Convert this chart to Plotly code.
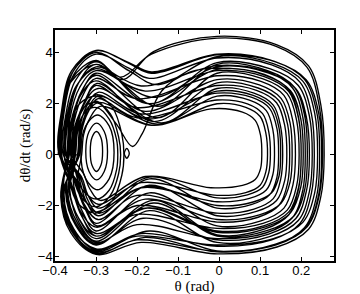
import plotly.graph_objects as go

# ---- trajectory loops read from the phase portrait (theta in rad, omega in rad/s) ----
loop01_theta = [-0.392, -0.386, -0.362, -0.30, -0.235, -0.16, -0.005, 0.141, 0.218, 0.248, 0.256, 0.248, 0.218, 0.141, -0.005, -0.19, -0.30, -0.362, -0.386]
loop01_omega = [0, 1.49, 2.84, 3.55, 2.95, 4.05, 4.65, 4.32, 3.49, 1.95, 0, -1.64, -2.93, -3.63, -3.9, -3.45, -3.92, -3.06, -1.65]

loop02_theta = [-0.39, -0.384, -0.36, -0.30, -0.22, -0.165, -0.005, 0.1375, 0.2125, 0.2425, 0.25, 0.2425, 0.2125, 0.1375, -0.005, -0.17, -0.30, -0.36, -0.384]
loop02_omega = [0, 1.72, 3.28, 4.1, 3.59, 3.2, 3.92, 3.65, 2.94, 1.65, 0, -1.59, -2.84, -3.52, -3.78, -3.0, -3.8, -2.96, -1.6]

loop03_theta = [-0.388, -0.382, -0.358, -0.30, -0.22, -0.15, -0.005, 0.132, 0.204, 0.233, 0.24, 0.233, 0.204, 0.132, -0.005, -0.2, -0.30, -0.358, -0.382]
loop03_omega = [0, 1.69, 3.22, 4.02, 3.3, 2.75, 3.85, 3.58, 2.89, 1.62, 0, -1.49, -2.66, -3.3, -3.55, -3.2, -3.7, -2.89, -1.55]

loop04_theta = [-0.38, -0.374, -0.35, -0.30, -0.17, -0.005, 0.125, 0.193, 0.22, 0.227, 0.22, 0.193, 0.125, -0.005, -0.17, -0.30, -0.35, -0.374]
loop04_omega = [0, 1.53, 2.92, 3.65, 2.0, 3.62, 3.37, 2.72, 1.52, 0, -1.45, -2.59, -3.21, -3.45, -2.2, -3.55, -2.77, -1.49]

loop05_theta = [-0.375, -0.369, -0.345, -0.30, -0.19, -0.005, 0.1155, 0.1785, 0.204, 0.21, 0.204, 0.1785, 0.1155, -0.005, -0.2, -0.30, -0.345, -0.369]
loop05_omega = [0, 1.45, 2.76, 3.45, 2.7, 3.5, 3.26, 2.63, 1.47, 0, -1.39, -2.48, -3.07, -3.3, -2.75, -3.45, -2.69, -1.45]

loop06_theta = [-0.37, -0.364, -0.34, -0.30, -0.18, -0.005, 0.11, 0.17, 0.194, 0.2, 0.194, 0.17, 0.11, -0.005, -0.16, -0.30, -0.34, -0.364]
loop06_omega = [0, 1.39, 2.64, 3.3, 2.5, 3.3, 3.07, 2.48, 1.39, 0, -1.32, -2.36, -2.93, -3.15, -1.8, -3.3, -2.57, -1.39]

loop07_theta = [-0.365, -0.359, -0.335, -0.30, -0.15, -0.005, 0.107, 0.166, 0.189, 0.195, 0.189, 0.166, 0.107, -0.005, -0.2, -0.30, -0.335, -0.359]
loop07_omega = [0, 1.31, 2.5, 3.12, 1.45, 3.2, 2.98, 2.4, 1.34, 0, -1.22, -2.18, -2.7, -2.9, -2.35, -3.1, -2.42, -1.3]

loop08_theta = [-0.36, -0.354, -0.33, -0.30, -0.2, -0.005, 0.102, 0.158, 0.18, 0.186, 0.18, 0.158, 0.102, -0.005, -0.17, -0.30, -0.33, -0.354]
loop08_omega = [0, 1.26, 2.4, 3.0, 2.2, 3.1, 2.88, 2.33, 1.3, 0, -1.18, -2.1, -2.6, -2.8, -1.5, -3.0, -2.34, -1.26]

loop09_theta = [-0.368, -0.362, -0.338, -0.30, -0.16, -0.005, 0.095, 0.146, 0.167, 0.172, 0.167, 0.146, 0.095, -0.005, -0.2, -0.30, -0.338, -0.362]
loop09_omega = [0, 1.22, 2.32, 2.9, 1.3, 2.82, 2.62, 2.12, 1.18, 0, -1.11, -1.99, -2.46, -2.65, -2.0, -2.85, -2.22, -1.2]

loop10_theta = [-0.355, -0.349, -0.325, -0.30, -0.2, -0.005, 0.091, 0.14, 0.16, 0.165, 0.16, 0.14, 0.091, -0.005, -0.17, -0.30, -0.325, -0.349]
loop10_omega = [0, 1.14, 2.18, 2.72, 1.85, 2.72, 2.53, 2.04, 1.14, 0, -1.01, -1.8, -2.23, -2.4, -1.2, -2.7, -2.11, -1.13]

loop11_theta = [-0.35, -0.345, -0.33, -0.295, -0.14, -0.005, 0.085, 0.132, 0.15, 0.155, 0.15, 0.132, 0.085, -0.005, -0.2, -0.295, -0.33, -0.345]
loop11_omega = [0, 1.09, 1.95, 2.6, 1.25, 2.6, 2.42, 1.95, 1.09, 0, -0.97, -1.73, -2.14, -2.3, -1.6, -2.55, -1.91, -1.07]

loop12_theta = [-0.345, -0.34, -0.325, -0.295, -0.19, -0.005, 0.08, 0.123, 0.141, 0.145, 0.141, 0.123, 0.08, -0.005, -0.17, -0.295, -0.325, -0.34]
loop12_omega = [0, 1.03, 1.84, 2.45, 1.6, 2.42, 2.25, 1.82, 1.02, 0, -0.88, -1.58, -1.95, -2.1, -0.95, -2.4, -1.8, -1.01]

loop13_theta = [-0.358, -0.352, -0.328, -0.30, -0.15, -0.005, 0.074, 0.115, 0.131, 0.135, 0.131, 0.115, 0.074, -0.005, -0.19, -0.30, -0.328, -0.352]
loop13_omega = [0, 0.99, 1.88, 2.35, 1.2, 2.3, 2.14, 1.73, 0.97, 0, -0.78, -1.39, -1.72, -1.85, -1.3, -2.25, -1.76, -0.95]

loop14_theta = [-0.34, -0.335, -0.32, -0.295, -0.2, -0.005, 0.069, 0.106, 0.121, 0.125, 0.121, 0.106, 0.069, -0.005, -0.17, -0.295, -0.32, -0.335]
loop14_omega = [0, 0.92, 1.65, 2.2, 1.45, 2.15, 2.0, 1.61, 0.9, 0, -0.71, -1.28, -1.58, -1.7, -0.88, -2.1, -1.58, -0.88]

loop15_theta = [-0.345, -0.34, -0.325, -0.295, -0.16, -0.005, 0.065, 0.1, 0.114, 0.118, 0.114, 0.1, 0.065, -0.005, -0.19, -0.295, -0.325, -0.34]
loop15_omega = [0, 0.86, 1.54, 2.05, 1.15, 2.0, 1.86, 1.5, 0.84, 0, -0.67, -1.2, -1.49, -1.6, -1.1, -1.95, -1.46, -0.82]

loop16_theta = [-0.335, -0.33, -0.315, -0.29, -0.165, -0.02, 0.057, 0.088, 0.101, 0.104, 0.101, 0.088, 0.057, -0.02, -0.18, -0.29, -0.315, -0.33]
loop16_omega = [0, 0.8, 1.43, 1.9, 1.15, 1.8, 1.67, 1.35, 0.76, 0, -0.55, -0.98, -1.21, -1.3, -0.86, -1.8, -1.35, -0.76]

loop17_theta = [-0.386, -0.38, -0.356, -0.30, -0.22, -0.165, -0.005, 0.135, 0.208, 0.238, 0.245, 0.238, 0.208, 0.135, -0.005, -0.18, -0.30, -0.356, -0.38]
loop17_omega = [0, 1.71, 3.26, 4.08, 3.62, 3.25, 3.95, 3.67, 2.96, 1.66, 0, -1.6, -2.87, -3.55, -3.82, -3.25, -3.85, -3.0, -1.62]

loop18_theta = [-0.372, -0.366, -0.342, -0.30, -0.15, -0.005, 0.118, 0.183, 0.209, 0.215, 0.209, 0.183, 0.118, -0.005, -0.16, -0.30, -0.342, -0.366]
loop18_omega = [0, 1.49, 2.84, 3.55, 1.9, 3.55, 3.3, 2.66, 1.49, 0, -1.34, -2.4, -2.98, -3.2, -1.9, -3.4, -2.65, -1.43]

loop19_theta = [-0.35, -0.345, -0.33, -0.30, -0.252, -0.211, -0.187, -0.14, -0.07, -0.005, 0.11, 0.17, 0.194, 0.2, 0.194, 0.17, 0.11, -0.005, -0.175, -0.30, -0.342, -0.366]
loop19_omega = [0, 0.9, 1.6, 2.1, 1.24, 0.32, 0.84, 2.5, 3.25, 3.4, 3.16, 2.55, 1.43, 0, -1.26, -2.25, -2.79, -3.0, -2.1, -3.2, -2.5, -1.35]

loop20_theta = [-0.384, -0.378, -0.354, -0.30, -0.22, -0.17, -0.005, 0.128, 0.197, 0.225, 0.232, 0.225, 0.197, 0.128, -0.005, -0.19, -0.30, -0.354, -0.378]
loop20_omega = [0, 1.66, 3.16, 3.95, 3.4, 3.0, 3.8, 3.53, 2.85, 1.6, 0, -1.51, -2.7, -3.35, -3.6, -3.1, -3.75, -2.93, -1.58]

loop21_theta = [-0.362, -0.356, -0.332, -0.30, -0.17, -0.005, 0.113, 0.174, 0.199, 0.205, 0.199, 0.174, 0.113, -0.005, -0.18, -0.30, -0.332, -0.356]
loop21_omega = [0, 1.34, 2.56, 3.2, 2.0, 3.35, 3.12, 2.51, 1.41, 0, -1.28, -2.29, -2.84, -3.05, -2.1, -3.2, -2.5, -1.34]

loop22_theta = [-0.352, -0.346, -0.325, -0.298, -0.18, -0.005, 0.098, 0.151, 0.173, 0.178, 0.173, 0.151, 0.098, -0.005, -0.18, -0.298, -0.325, -0.346]
loop22_omega = [0, 1.18, 2.2, 2.8, 1.7, 2.95, 2.74, 2.21, 1.24, 0, -1.07, -1.91, -2.37, -2.55, -1.75, -2.8, -2.18, -1.18]

loop23_theta = [-0.378, -0.372, -0.348, -0.30, -0.16, -0.005, 0.121, 0.187, 0.213, 0.22, 0.213, 0.187, 0.121, -0.005, -0.185, -0.30, -0.348, -0.372]
loop23_omega = [0, 1.42, 2.7, 3.38, 2.25, 3.45, 3.21, 2.59, 1.45, 0, -1.41, -2.51, -3.12, -3.35, -2.5, -3.5, -2.73, -1.47]

loop24_theta = [-0.342, -0.337, -0.322, -0.295, -0.17, -0.005, 0.083, 0.128, 0.146, 0.15, 0.146, 0.128, 0.083, -0.005, -0.18, -0.295, -0.322, -0.337]
loop24_omega = [0, 0.97, 1.73, 2.3, 1.4, 2.5, 2.33, 1.88, 1.05, 0, -0.84, -1.5, -1.86, -2.0, -1.25, -2.3, -1.72, -0.97]

loop25_theta = [-0.39, -0.384, -0.36, -0.30, -0.24, -0.165, -0.005, 0.139, 0.214, 0.244, 0.252, 0.244, 0.214, 0.139, -0.005, -0.2, -0.30, -0.36, -0.384]
loop25_omega = [0, 1.55, 2.96, 3.7, 3.05, 3.95, 4.58, 4.26, 3.44, 1.92, 0, -1.6, -2.85, -3.55, -3.8, -3.35, -3.88, -3.0, -1.62]

# loops that stay inside the left well
well1_theta = [-0.36, -0.352, -0.33, -0.30, -0.265, -0.245, -0.24, -0.245, -0.265, -0.30, -0.335, -0.355, -0.36]
well1_omega = [0, 1.1, 1.85, 2.05, 1.6, 0.7, 0, -0.75, -1.6, -2.05, -1.7, -0.9, 0]
well2_theta = [-0.37, -0.363, -0.34, -0.30, -0.26, -0.237, -0.232, -0.237, -0.26, -0.30, -0.345, -0.365, -0.37]
well2_omega = [0, 1.2, 2.0, 2.3, 1.85, 0.8, 0, -0.8, -1.8, -2.3, -1.9, -1.0, 0]
well3_theta = [-0.353, -0.346, -0.325, -0.298, -0.268, -0.25, -0.247, -0.25, -0.268, -0.298, -0.33, -0.348, -0.353]
well3_omega = [0, 1.0, 1.7, 1.85, 1.4, 0.6, 0, -0.6, -1.4, -1.75, -1.45, -0.8, 0]

# small closed orbits around the left centre and the tiny loop near -0.225
ring1_theta = [-0.314, -0.3096, -0.299, -0.2884, -0.284, -0.2884, -0.299, -0.3096, -0.314]
ring1_omega = [0.125, 0.68, 0.91, 0.68, 0.125, -0.43, -0.66, -0.43, 0.125]
ring2_theta = [-0.325, -0.317, -0.2985, -0.28, -0.272, -0.28, -0.2985, -0.317, -0.325]
ring2_omega = [0.125, 0.91, 1.24, 0.91, 0.125, -0.66, -0.99, -0.66, 0.125]
ring3_theta = [-0.337, -0.325, -0.2965, -0.268, -0.256, -0.268, -0.2965, -0.325, -0.337]
ring3_omega = [0.09, 1.13, 1.56, 1.13, 0.09, -0.95, -1.38, -0.95, 0.09]
tiny_theta = [-0.231, -0.225, -0.219, -0.225, -0.231]
tiny_omega = [0.05, 0.25, 0.05, -0.14, 0.05]

trajectory_order = [
    (loop01_theta, loop01_omega), (loop09_theta, loop09_omega), (loop03_theta, loop03_omega),
    (loop14_theta, loop14_omega), (loop05_theta, loop05_omega), (loop19_theta, loop19_omega),
    (loop11_theta, loop11_omega), (loop02_theta, loop02_omega), (loop07_theta, loop07_omega),
    (loop20_theta, loop20_omega), (loop22_theta, loop22_omega),
    (loop16_theta, loop16_omega), (well1_theta, well1_omega), (loop13_theta, loop13_omega),
    (loop25_theta, loop25_omega), (loop24_theta, loop24_omega),
    (loop04_theta, loop04_omega), (loop10_theta, loop10_omega), (loop17_theta, loop17_omega),
    (well2_theta, well2_omega), (loop06_theta, loop06_omega), (loop12_theta, loop12_omega),
    (loop21_theta, loop21_omega), (loop23_theta, loop23_omega),
    (loop08_theta, loop08_omega), (well3_theta, well3_omega), (loop15_theta, loop15_omega),
    (loop18_theta, loop18_omega),
]

closed_orbits = [(ring1_theta, ring1_omega), (ring2_theta, ring2_omega),
                 (ring3_theta, ring3_omega), (tiny_theta, tiny_omega)]

x_ticks = [-0.4, -0.3, -0.2, -0.1, 0, 0.1, 0.2]
x_tick_labels = ["\u22120.4", "\u22120.3", "\u22120.2", "\u22120.1", "0", "0.1", "0.2"]
y_ticks = [-4, -2, 0, 2, 4]
y_tick_labels = ["\u22124", "\u22122", "0", "2", "4"]

traj_x, traj_y = [], []
for th, om in trajectory_order:
    traj_x.extend(th)
    traj_y.extend(om)

line_style = dict(color="black", width=1.35, shape="spline", smoothing=1.0)
fig = go.Figure()
fig.add_trace(go.Scatter(x=traj_x, y=traj_y, mode="lines", line=line_style,
                         showlegend=False, hoverinfo="skip"))
for th, om in closed_orbits:
    fig.add_trace(go.Scatter(x=th, y=om, mode="lines", line=line_style,
                             showlegend=False, hoverinfo="skip"))

axis_common = dict(showline=True, linecolor="black", linewidth=1.5, mirror="ticks",
                   ticks="inside", ticklen=4, tickwidth=1, tickcolor="black",
                   showgrid=False, zeroline=False, automargin=False,
                   tickfont=dict(family="Liberation Sans, Arial", size=13, color="black"))

fig.update_xaxes(range=[-0.4, 0.28], tickvals=x_ticks, ticktext=x_tick_labels,
                 ticklabelstandoff=-3,
                 title=dict(text="\u03b8 (rad)", standoff=0,
                            font=dict(family="Liberation Serif, Times New Roman", size=15, color="black")),
                 **axis_common)
fig.update_yaxes(range=[-4.18, 4.9], tickvals=y_ticks, ticktext=y_tick_labels,
                 ticklabelstandoff=-2,
                 title=dict(text="d\u03b8/dt (rad/s)", standoff=4,
                            font=dict(family="Liberation Serif, Times New Roman", size=15, color="black")),
                 **axis_common)

fig.update_layout(width=360, height=294, margin=dict(l=47, r=34, t=22, b=41),
                  paper_bgcolor="white", plot_bgcolor="white")

fig.write_html("out.html")
